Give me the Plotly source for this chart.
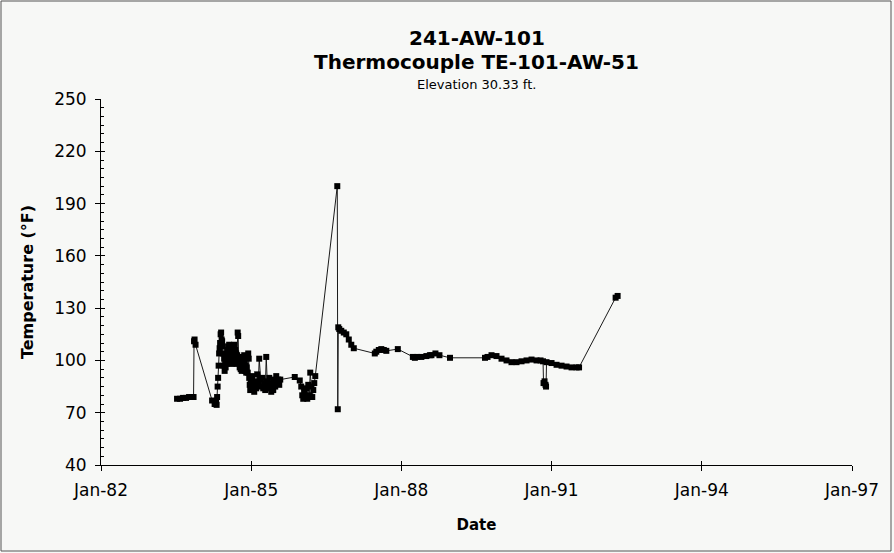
import datetime as dt
import plotly.graph_objects as go

# ---- data (decimal years, temperature °F) ----
years = [
    1983.52, 1983.58, 1983.64, 1983.70, 1983.76, 1983.82, 1983.85, 1983.86, 1983.87, 1983.89,
    1984.22, 1984.27, 1984.30, 1984.31,
    1984.32, 1984.33, 1984.34, 1984.35, 1984.36, 1984.37, 1984.38, 1984.39, 1984.40, 1984.41,
    1984.42, 1984.43,
    1984.44, 1984.45, 1984.46, 1984.47, 1984.48, 1984.49, 1984.50, 1984.51, 1984.52, 1984.53,
    1984.54, 1984.55, 1984.56, 1984.57, 1984.58, 1984.59, 1984.60, 1984.61, 1984.62, 1984.63,
    1984.64, 1984.65, 1984.66, 1984.67, 1984.68, 1984.69, 1984.70, 1984.71, 1984.72, 1984.73,
    1984.74, 1984.75, 1984.76, 1984.77, 1984.78, 1984.79, 1984.80, 1984.81, 1984.82, 1984.83,
    1984.84, 1984.85, 1984.86, 1984.87, 1984.88, 1984.89, 1984.90, 1984.91,
    1984.93, 1984.94, 1984.95, 1984.96, 1984.97, 1984.98, 1984.99, 1985.00, 1985.02, 1985.04,
    1985.06, 1985.08, 1985.10, 1985.12, 1985.14, 1985.16, 1985.18, 1985.20, 1985.22, 1985.24,
    1985.26, 1985.28, 1985.30, 1985.32, 1985.34, 1985.36, 1985.38, 1985.40, 1985.42, 1985.44,
    1985.46, 1985.48, 1985.50, 1985.52, 1985.54, 1985.56, 1985.58,
    1985.87, 1985.97, 1986.00, 1986.02, 1986.04, 1986.06, 1986.08, 1986.10, 1986.12, 1986.14,
    1986.16, 1986.18, 1986.20, 1986.22, 1986.24, 1986.26, 1986.28,
    1986.72, 1986.73, 1986.74,
    1986.76, 1986.80, 1986.85, 1986.90, 1986.95, 1987.00, 1987.05,
    1987.47, 1987.50, 1987.55, 1987.60, 1987.65, 1987.70, 1987.93,
    1988.23, 1988.27, 1988.32, 1988.40, 1988.50, 1988.57, 1988.60, 1988.68, 1988.76, 1988.97,
    1989.67, 1989.72, 1989.80, 1989.90, 1990.00, 1990.10, 1990.20, 1990.30, 1990.40, 1990.50,
    1990.60, 1990.70, 1990.78, 1990.83, 1990.84, 1990.86, 1990.88, 1990.89, 1990.90,
    1991.00, 1991.10, 1991.20, 1991.30, 1991.40, 1991.50, 1991.55,
    1992.28, 1992.32,
]
temps = [
    78, 78, 78.5, 78.5, 79, 79, 79, 111, 112, 109,
    77, 75, 76, 74.5,
    79, 85, 90, 97, 104, 107, 110, 115, 116, 112,
    111, 108,
    104, 97, 101, 94, 99, 96, 103, 98, 106, 100,
    108, 104, 109, 102, 107, 100, 105, 98, 107, 101,
    108, 104, 109, 103, 106, 100, 104, 98, 103, 116,
    114, 99, 102, 96, 100, 95, 99, 94, 98, 95,
    101, 96, 103, 98, 94, 97, 93, 96,
    93, 104, 101, 90, 86, 83, 88, 84, 91, 85,
    82, 88, 84, 92, 86, 101, 89, 85, 90, 84,
    87, 83, 102, 88, 85, 90, 84, 82, 87, 83,
    89, 85, 91, 87, 89, 86, 89,
    90.5, 88.5, 85, 80, 78, 82, 79, 84, 78, 86,
    80, 93, 85, 79, 83, 87, 91,
    200, 72, 119,
    118, 117, 116, 115, 112, 109, 107,
    104, 105, 106, 106.5, 106, 105.5, 106.5,
    102, 101.5, 102, 102, 102.5, 103, 103, 104, 103, 101.5,
    101.5, 102, 103, 102.5, 101, 100, 99, 99, 99.5, 100,
    100.5, 100, 100, 99.5, 87, 88, 86, 85, 99,
    98.5, 97.5, 97, 96.5, 96, 96, 96,
    136, 137,
]

x_tick_vals = ["1982-01-01", "1985-01-01", "1988-01-01", "1991-01-01", "1994-01-01", "1997-01-01"]
x_tick_text = ["Jan-82", "Jan-85", "Jan-88", "Jan-91", "Jan-94", "Jan-97"]
y_tick_vals = [40, 70, 100, 130, 160, 190, 220, 250]


def to_date(y):
    yr = int(y)
    start = dt.datetime(yr, 1, 1)
    end = dt.datetime(yr + 1, 1, 1)
    return start + (end - start) * (y - yr)


dates = [to_date(y) for y in years]

FONT = "DejaVu Sans"
BG = "#f7f8f6"

fig = go.Figure()
fig.add_trace(go.Scatter(
    x=dates, y=temps, mode="lines+markers",
    line=dict(color="#1a1a1a", width=1),
    marker=dict(symbol="square", size=6, color="black"),
    showlegend=False, hoverinfo="skip",
))
# invisible trace on overlay axes so inside tick halves are drawn
fig.add_trace(go.Scatter(
    x=[x_tick_vals[0]], y=[40], xaxis="x2", yaxis="y2", mode="markers",
    marker=dict(opacity=0), showlegend=False, hoverinfo="skip",
))

fig.update_layout(
    width=894, height=553,
    margin=dict(l=101, r=42, t=99, b=88),
    paper_bgcolor=BG, plot_bgcolor=BG,
    font=dict(family=FONT, color="black"),
    xaxis=dict(
        type="date", range=["1982-01-01", "1997-01-01"],
        tickvals=x_tick_vals, ticktext=x_tick_text,
        ticks="outside", ticklen=5, tickwidth=1, tickcolor="black",
        showline=True, linecolor="black", linewidth=1,
        showgrid=False, zeroline=False,
        tickfont=dict(size=17, family=FONT), ticklabelstandoff=5,
        title=dict(text="<b>Date</b>", font=dict(size=15, family=FONT), standoff=20),
    ),
    yaxis=dict(
        range=[40, 250], tickvals=y_tick_vals,
        ticks="outside", ticklen=5, tickwidth=1, tickcolor="black",
        showline=True, linecolor="black", linewidth=1,
        showgrid=False, zeroline=False,
        tickfont=dict(size=17, family=FONT), ticklabelstandoff=5,
        title=dict(text="<b>Temperature (°F)</b>", font=dict(size=16, family=FONT), standoff=16),
    ),
    xaxis2=dict(
        type="date", range=["1982-01-01", "1997-01-01"], overlaying="x", side="bottom",
        tickvals=x_tick_vals, ticks="inside", ticklen=4, tickcolor="black",
        showticklabels=False, showgrid=False, zeroline=False, showline=False,
    ),
    yaxis2=dict(
        range=[40, 250], overlaying="y", side="left",
        tickvals=y_tick_vals, ticks="inside", ticklen=4, tickcolor="black",
        showticklabels=False, showgrid=False, zeroline=False, showline=False,
        minor=dict(dtick=5, tick0=40, ticks="inside", ticklen=3, tickcolor="black", showgrid=False),
    ),
    annotations=[
        dict(text="<b>241-AW-101</b>", x=0.5, xref="paper", y=38, yref="paper",
             showarrow=False, font=dict(size=20, family=FONT)),
        dict(text="<b>Thermocouple TE-101-AW-51</b>", x=0.5, xref="paper",
             y=62, yref="paper", showarrow=False, font=dict(size=20, family=FONT)),
        dict(text="Elevation 30.33 ft.", x=0.5, xref="paper", y=84, yref="paper",
             showarrow=False, font=dict(size=13, family=FONT)),
    ],
    shapes=[dict(type="rect", xref="paper", yref="paper",
                 x0=(1 - 101) / 751, x1=(891 - 101) / 751,
                 y0=(465 - 551) / 366, y1=(465 - 1) / 366,
                 line=dict(color="#555555", width=1))],
)

# convert annotation pixel y positions to paper coordinates
for a in fig.layout.annotations:
    a.y = (465 - a.y) / 366
    a.yanchor = "middle"

fig.write_html("out.html", config={"displayModeBar": False},
               post_script="document.body.style.margin='0';")
